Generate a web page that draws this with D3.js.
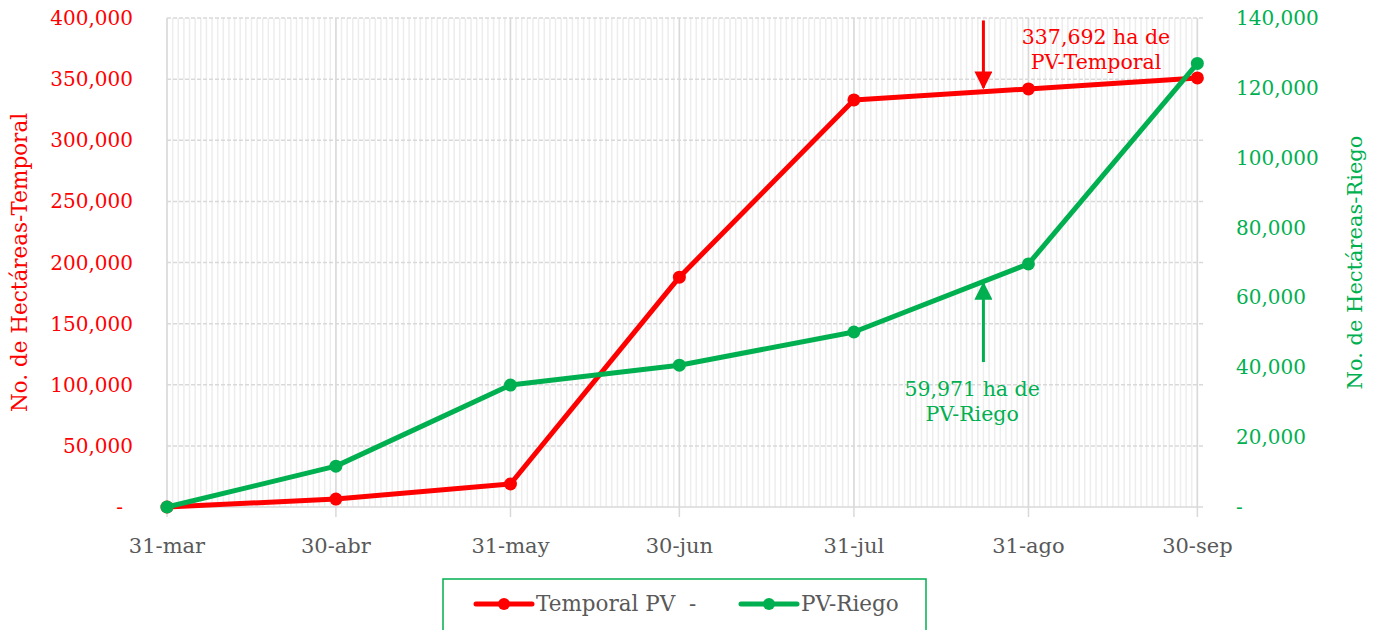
<!DOCTYPE html>
<html><head><meta charset="utf-8">
<script src="https://cdn.jsdelivr.net/npm/d3@7"></script>
<style>body{margin:0;background:#fff}svg{display:block}text{font-family:"DejaVu Serif",serif}</style>
</head><body><svg id="c" width="1377" height="630"></svg>
<script>
const dates = ["2023-03-31","2023-04-30","2023-05-31","2023-06-30","2023-07-31","2023-08-31","2023-09-30"];
const tickLabels = ["31-mar","30-abr","31-may","30-jun","31-jul","31-ago","30-sep"];
const temporal = [0, 6500, 18800, 188000, 333000, 342000, 351000];
const riego = [0, 11700, 34900, 40600, 50100, 69600, 127000];
const leftTicks = [0,50000,100000,150000,200000,250000,300000,350000,400000];
const rightTicks = [0,20000,40000,60000,80000,100000,120000,140000];
const seriesNames = ["Temporal PV  -", "PV-Riego"];

const RED="#FF0000", GREEN="#00B050", GRAY="#595959";
const parse = d3.timeParse("%Y-%m-%d");
const D = dates.map(parse);
const svg = d3.select("#c");
const L=167, R=1203, T=18, B=507;
const x = d3.scaleTime().domain([D[0], d3.timeDay.offset(D[6],1)]).range([L,R]);
const yL = d3.scaleLinear().domain([0,400000]).range([B,T]);
const yR = d3.scaleLinear().domain([0,140000]).range([B,T]);
const fmt = d3.format(",");

// minor daily gridlines
svg.append("g").selectAll("line").data(d3.timeDay.range(D[0], d3.timeDay.offset(D[6],1)))
  .join("line").attr("x1",d=>x(d)).attr("x2",d=>x(d)).attr("y1",T).attr("y2",B)
  .attr("stroke","#EDEDED").attr("stroke-width",1.5);
// horizontal dashed gridlines
svg.append("g").selectAll("line").data(leftTicks.slice(1)).join("line")
  .attr("x1",L).attr("x2",R).attr("y1",d=>yL(d)).attr("y2",d=>yL(d))
  .attr("stroke","#D9D9D9").attr("stroke-width",1.5).attr("stroke-dasharray","4,2");
// major vertical gridlines + ticks
svg.append("g").selectAll("line").data(D).join("line")
  .attr("x1",d=>x(d)).attr("x2",d=>x(d)).attr("y1",T).attr("y2",B+10)
  .attr("stroke","#D9D9D9").attr("stroke-width",1.5);
// bottom axis line
svg.append("line").attr("x1",L).attr("x2",R).attr("y1",B).attr("y2",B).attr("stroke","#D9D9D9").attr("stroke-width",1.5);

// x labels
svg.append("g").selectAll("text").data(D).join("text")
  .attr("x",d=>x(d)).attr("y",553).attr("text-anchor","middle")
  .attr("font-size",21).attr("fill",GRAY).text((d,i)=>tickLabels[i]);
// left labels
svg.append("g").selectAll("text").data(leftTicks).join("text")
  .attr("x",d=>d===0?123:133).attr("y",d=>yL(d)+7).attr("text-anchor","end")
  .attr("font-size",20).attr("fill",RED).text(d=>d===0?"-":fmt(d));
// right labels
svg.append("g").selectAll("text").data(rightTicks).join("text")
  .attr("x",1236).attr("y",d=>yR(d)+7).attr("text-anchor","start")
  .attr("font-size",20).attr("fill",GREEN).text(d=>d===0?"-":fmt(d));
// axis titles
svg.append("text").attr("transform",`translate(27,${(T+B)/2}) rotate(-90)`).attr("text-anchor","middle")
  .attr("font-size",21.5).attr("fill",RED).text("No. de Hectáreas-Temporal");
svg.append("text").attr("transform",`translate(1362,${(T+B)/2}) rotate(-90)`).attr("text-anchor","middle")
  .attr("font-size",21).attr("fill",GREEN).text("No. de Hectáreas-Riego");

// series
function drawSeries(vals, y, color){
  const pts = vals.map((v,i)=>[x(D[i]), y(v)]);
  svg.append("path").attr("d",d3.line()(pts)).attr("fill","none").attr("stroke",color)
    .attr("stroke-width",5).attr("stroke-linejoin","round");
  svg.append("g").selectAll("circle").data(pts).join("circle")
    .attr("cx",d=>d[0]).attr("cy",d=>d[1]).attr("r",6.5).attr("fill",color);
}
drawSeries(temporal, yL, RED);
drawSeries(riego, yR, GREEN);

// annotations
const defs = svg.append("defs");
[["aR",RED],["aG",GREEN]].forEach(([id,c])=>{
  defs.append("marker").attr("id",id).attr("viewBox","0 0 10 10").attr("refX",9).attr("refY",5)
    .attr("markerWidth",6).attr("markerHeight",6).attr("orient","auto").attr("markerUnits","strokeWidth")
    .append("path").attr("d","M0,0 L10,5 L0,10 z").attr("fill",c);
});
const aDate = parse("2023-08-23");
svg.append("line").attr("x1",x(aDate)).attr("x2",x(aDate)).attr("y1",yL(398000)).attr("y2",yL(343000))
  .attr("stroke",RED).attr("stroke-width",3).attr("marker-end","url(#aR)");
svg.append("line").attr("x1",x(aDate)).attr("x2",x(aDate)).attr("y1",yR(41500)).attr("y2",yR(64000))
  .attr("stroke",GREEN).attr("stroke-width",3).attr("marker-end","url(#aG)");
const tR = svg.append("text").attr("text-anchor","middle").attr("font-size",20.5).attr("fill",RED);
tR.append("tspan").attr("x",x(parse("2023-09-12"))).attr("y",yL(379000)).text("337,692 ha de");
tR.append("tspan").attr("x",x(parse("2023-09-12"))).attr("y",yL(358500)).text("PV-Temporal");
const tG = svg.append("text").attr("text-anchor","middle").attr("font-size",20.5).attr("fill",GREEN);
tG.append("tspan").attr("x",x(parse("2023-08-21"))).attr("y",yR(31700)).text("59,971 ha de");
tG.append("tspan").attr("x",x(parse("2023-08-21"))).attr("y",yR(24500)).text("PV-Riego");

// legend
const lg = svg.append("g");
lg.append("rect").attr("x",443).attr("y",579).attr("width",483).attr("height",60)
  .attr("fill","#fff").attr("stroke",GREEN).attr("stroke-width",1.5);
[[476,RED],[741,GREEN]].forEach(([lx,c],i)=>{
  lg.append("line").attr("x1",lx).attr("x2",lx+56).attr("y1",604).attr("y2",604)
    .attr("stroke",c).attr("stroke-width",5).attr("stroke-linecap","round");
  lg.append("circle").attr("cx",lx+28).attr("cy",604).attr("r",6).attr("fill",c);
  lg.append("text").attr("x",lx+60).attr("y",611).attr("font-size",21.5).attr("fill",GRAY)
    .attr("xml:space","preserve").style("white-space","pre").text(seriesNames[i]);
});
</script></body></html>
